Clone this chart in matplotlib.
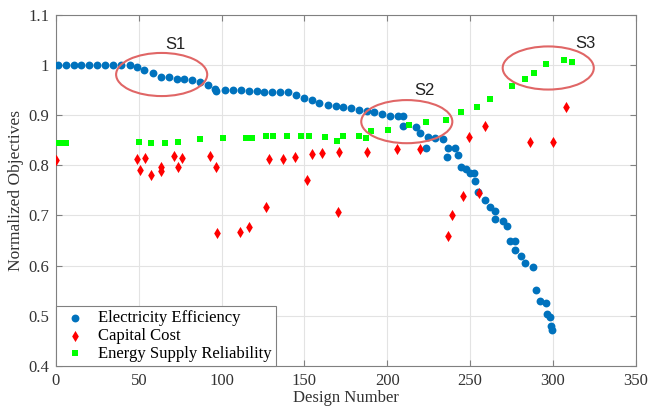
import matplotlib.pyplot as plt
from matplotlib.patches import Ellipse

# Electricity Efficiency (blue dots)
ee_x = [1.0, 5.8, 10.6, 15.4, 20.2, 25.0, 29.7, 34.7, 39.5, 44.5,
        48.7, 53.3, 58.7, 63.4, 68.2, 72.8, 77.4, 82.3, 86.9, 91.9,
        96.0, 96.6, 102, 107, 111.6, 116.5, 121.1, 125.8, 130.5, 135.2,
        140.2, 145.2, 149.9, 154.3, 158.7, 164, 168.8, 173.4, 178, 182.9,
        187.5, 192.3, 197.1, 201.9, 206.2, 209.6, 209.6, 217.3, 219.7, 223.7,
        224.7, 228.7, 233.4, 235.8, 236.8, 240.8, 242.8, 244.8, 247.4, 249.8,
        252.4, 252.9, 254.9, 258.9, 261.9, 264.9, 264.9, 269.9, 272.6, 274,
        276.9, 276.9, 280.5, 282.9, 287.7, 290.1, 292.5, 295.7, 296.7, 298.1,
        298.7, 299.3]
ee_y = [1.0, 1.0, 1.0, 1.0, 1.0, 1.0, 1.0, 1.0, 1.0, 1.0,
        0.996, 0.990, 0.984, 0.976, 0.976, 0.973, 0.972, 0.970, 0.966, 0.961,
        0.953, 0.949, 0.950, 0.950, 0.950, 0.949, 0.948, 0.947, 0.947, 0.947,
        0.947, 0.941, 0.934, 0.930, 0.924, 0.921, 0.919, 0.917, 0.915, 0.910,
        0.908, 0.906, 0.902, 0.899, 0.899, 0.899, 0.879, 0.877, 0.864, 0.834,
        0.857, 0.855, 0.852, 0.817, 0.835, 0.834, 0.820, 0.797, 0.792, 0.784,
        0.784, 0.769, 0.747, 0.730, 0.716, 0.709, 0.693, 0.689, 0.679, 0.649,
        0.649, 0.632, 0.619, 0.605, 0.598, 0.552, 0.530, 0.526, 0.503, 0.498,
        0.480, 0.471]

# Capital Cost (red diamonds)
cc_x = [0, 48.7, 50.7, 53.7, 57.1, 63.4, 63.4, 71.4, 73.8, 75.8,
        92.7, 96.8, 97, 111.4, 116.5, 126.5, 128.5, 137.2, 144.6, 151.7,
        154.3, 160.5, 170, 171, 187.8, 206, 219.5, 236.4, 239.2, 245.8,
        249.4, 255.5, 259.1, 286.1, 299.8, 308.2]
cc_y = [0.811, 0.812, 0.791, 0.814, 0.781, 0.796, 0.789, 0.819, 0.796, 0.814,
        0.818, 0.796, 0.665, 0.667, 0.676, 0.716, 0.812, 0.812, 0.817, 0.770,
        0.823, 0.825, 0.706, 0.827, 0.827, 0.832, 0.832, 0.659, 0.701, 0.738,
        0.857, 0.744, 0.879, 0.847, 0.846, 0.917]

# Energy Supply Reliability (green squares)
esr_x = [0.8, 3.4, 6.0, 50.3, 57.1, 65.8, 73.8, 86.9, 101, 114.5,
         118.5, 126.5, 131.2, 139.2, 147.7, 152.9, 162.7, 169.4, 173.4, 182.8,
         187, 190.3, 200.4, 213.4, 223.7, 235.4, 244.8, 253.9, 262.3, 275.6,
         283, 288.5, 295.7, 306.6, 311.6]
esr_y = [0.844, 0.844, 0.844, 0.847, 0.844, 0.844, 0.847, 0.852, 0.855, 0.855,
         0.855, 0.859, 0.859, 0.859, 0.859, 0.859, 0.857, 0.849, 0.859, 0.858,
         0.854, 0.868, 0.870, 0.881, 0.886, 0.891, 0.907, 0.917, 0.933, 0.959,
         0.972, 0.985, 1.001, 1.010, 1.006]

# regions S1, S2, S3 (centre x, centre y, label x, label y)
regions = ['S1', 'S2', 'S3']
reg_cx = [63.8, 211.8, 297.2]
reg_cy = [0.981, 0.887, 0.994]
reg_lx = [71.8, 222.7, 319.8]
reg_ly = [1.040, 0.950, 1.043]

serif = 'Liberation Serif'
fig = plt.figure(figsize=(6.48, 4.12), dpi=100)
ax = fig.add_axes([0.0864, 0.112, 0.8946, 0.852])

ax.scatter(ee_x, ee_y, s=32, marker='o', color='#0072BD', linewidths=0,
           label='Electricity Efficiency', zorder=3)
ax.scatter(cc_x, cc_y, s=32, marker='d', color='#FF0000', linewidths=0,
           label='Capital Cost', zorder=3)
ax.scatter(esr_x, esr_y, s=22, marker='s', color='#00FF00', linewidths=0,
           label='Energy Supply Reliability', zorder=3)

for name, cx, cy, lx, ly in zip(regions, reg_cx, reg_cy, reg_lx, reg_ly):
    ax.add_patch(Ellipse((cx, cy), 55, 0.086, fill=False,
                         edgecolor='#E06666', linewidth=1.5, zorder=4))
    ax.text(lx, ly, name, fontsize=12, family='Liberation Sans',
            ha='center', va='center', color='#222222')

ax.set_xlim(0, 350)
ax.set_ylim(0.4, 1.1)
ax.set_xticks(range(0, 351, 50))
ax.set_yticks([0.4, 0.5, 0.6, 0.7, 0.8, 0.9, 1.0, 1.1])
ax.set_yticklabels(['0.4', '0.5', '0.6', '0.7', '0.8', '0.9', '1', '1.1'])
ax.grid(True, color='#E3E3E3', linewidth=0.8)
ax.set_axisbelow(True)
ax.tick_params(direction='in', top=True, right=True, length=4,
               color='#808080', labelsize=12, labelcolor='#333333', pad=5)
for lab in ax.get_xticklabels() + ax.get_yticklabels():
    lab.set_family(serif)
for sp in ax.spines.values():
    sp.set_color('#808080')

ax.set_xlabel('Design Number', fontsize=12, family=serif, color='#333333', labelpad=1)
ax.set_ylabel('Normalized Objectives', fontsize=12.5, family=serif, color='#333333', labelpad=3)

leg = ax.legend(loc='lower left', prop={'family': serif, 'size': 12},
                fancybox=False, edgecolor='#808080', borderaxespad=0,
                handletextpad=0.5, labelspacing=0.1, borderpad=0.25,
                handlelength=1.8, framealpha=1)
leg.get_frame().set_linewidth(0.8)

fig.savefig('out.png', dpi=100)
